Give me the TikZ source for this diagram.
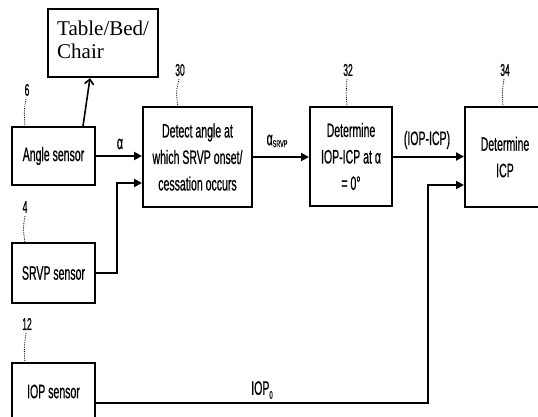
\documentclass[tikz,border=0pt]{standalone}
\usepackage{fontspec}
\setmainfont{Liberation Sans}
\newfontfamily\narrowf[FakeStretch=0.54,FakeBold=0.6]{Liberation Sans}
\newfontfamily\numf[FakeStretch=0.5,FakeBold=0.8]{Liberation Sans}
\newfontfamily\serift{Liberation Serif}
\usetikzlibrary{arrows.meta}
\begin{document}
\begin{tikzpicture}[x=1pt,y=-1pt,
  box/.style={draw, line width=2pt, inner sep=0pt, align=center,
    font=\narrowf\fontsize{19.5}{26.5}\selectfont},
  tbox/.style={draw, line width=2.2pt, inner sep=0pt, align=left,
    font=\serift\fontsize{21}{22}\selectfont},
  conn/.style={line width=2pt, -{Triangle[length=8pt,width=8pt]}},
  lbl/.style={inner sep=0pt, font=\narrowf\fontsize{19.5}{20}\selectfont},
  num/.style={inner sep=0pt, font=\numf\fontsize{17}{17}\selectfont},
  lead/.style={line width=0.8pt, densely dotted}]
\useasboundingbox (0,0) rectangle (538,417);
\clip (0,0) rectangle (538,417);
% boxes
\node[tbox, minimum width=110pt, minimum height=68pt] (table) at (103,43) {};
\node[inner sep=0pt, anchor=north west, align=left, font=\serift\fontsize{21}{22.5}\selectfont] (tabletext) at (57,21) {Table/Bed/\\Chair};
\node[box, minimum width=83pt, minimum height=58pt] (angle) at (53.5,156) {Angle sensor};
\node[box, minimum width=83pt, minimum height=60pt] (srvp) at (53.5,273) {SRVP sensor};
\node[box, minimum width=83pt, minimum height=57pt] (iop) at (53.5,391.5) {IOP sensor};
\node[box, minimum width=109pt, minimum height=100pt] (detect) at (197.5,157) {Detect angle at\\which SRVP onset/\\cessation occurs};
\node[box, minimum width=82pt, minimum height=99pt] (det32) at (351,156.5) {Determine\\IOP-ICP at α\\= 0°};
\node[box, minimum width=80pt, minimum height=100pt] (icp) at (505,157) {Determine\\ICP};
% reference numbers
\node[num] (n6) at (27,90) {6};
\node[num] (n4) at (25,207) {4};
\node[num] (n12) at (27,324) {12};
\node[num] (n30) at (180,70) {30};
\node[num] (n32) at (348,70) {32};
\node[num] (n34) at (505,70) {34};
\draw[lead] (n6.south) ++(-1,3) .. controls (24,110) .. (25,127);
\draw[lead] (n4.south) ++(0,3) .. controls (23,228) .. (25,243);
\draw[lead] (n12.south) ++(-1,3) .. controls (24,348) .. (25,363);
\draw[lead] (n30.south) ++(-1,3) .. controls (176,92) .. (178,107);
\draw[lead] (n32.south) ++(-1,3) .. controls (346,92) .. (347,107);
\draw[lead] (n34.south) ++(-1,3) .. controls (502,92) .. (503,107);
% connectors
\draw[line width=1.6pt, -{Straight Barb[length=5pt,width=9pt]}] ([xshift=29.5pt]angle.north) -- ([xshift=-13pt]table.south);
\draw[conn] (angle.east) -- (angle.east -| detect.west);
\coordinate (srvpturn) at (117,273);
\draw[conn] (srvp.east) -- (srvpturn) |- ([yshift=-26pt]detect.west);
\draw[conn] (detect.east) -- (detect.east -| det32.west);
\draw[conn] (det32.east) -- (det32.east -| icp.west);
\coordinate (iopturn) at (428,403);
\draw[conn] ([yshift=-11.5pt]iop.east) -- (iopturn) |- ([yshift=-28pt]icp.west);
% connector labels
\node[lbl] (la) at (120,144) {α};
\node[lbl] (lasrvp) at (277,141) {α\raisebox{-2pt}{\fontsize{10}{10}\selectfont SRVP}};
\node[lbl] (liopicp) at (427,140) {(IOP-ICP)};
\node[lbl] (liop0) at (262,390) {IOP\raisebox{-4pt}{\fontsize{11}{11}\selectfont 0}};
\end{tikzpicture}
\end{document}
